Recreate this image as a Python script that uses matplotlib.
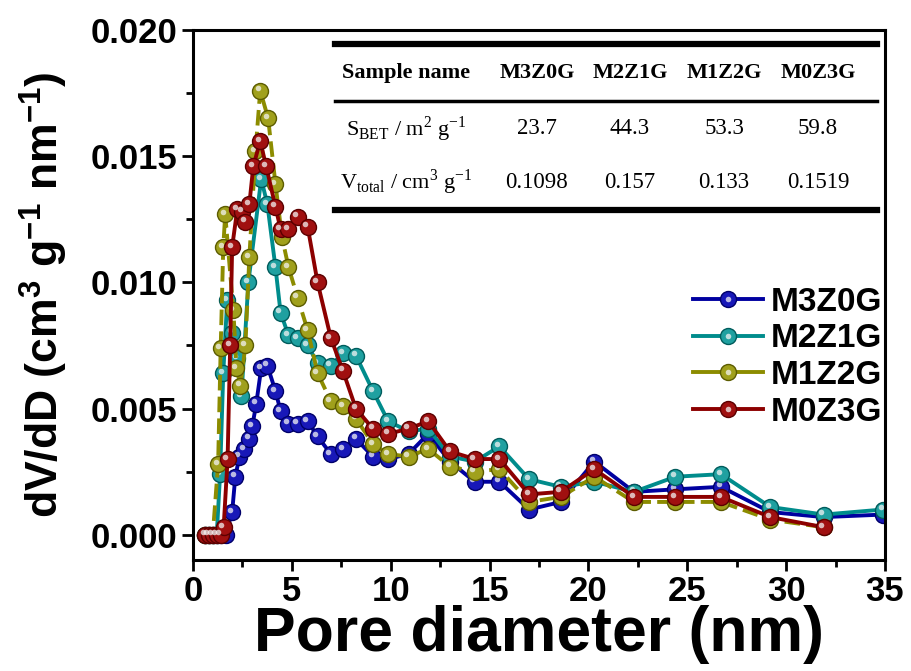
import numpy as np
import matplotlib
matplotlib.use("Agg")
import matplotlib.pyplot as plt
from matplotlib.lines import Line2D
from matplotlib.legend_handler import HandlerTuple
from matplotlib.transforms import offset_copy

plt.rcParams['font.family'] = ['Liberation Sans', 'DejaVu Sans']
plt.rcParams['font.weight'] = 'bold'

# BJH pore size distributions (pore diameter in nm, dV/dD in cm3 g-1 nm-1)
x_m3z0g = [0.6, 0.8, 1.0, 1.2, 1.4, 1.65, 1.98, 2.14, 2.35, 2.6, 2.85, 3.0, 3.2, 3.45, 3.76,
           4.17, 4.43, 4.83, 5.29, 5.8, 6.3, 6.97, 7.58, 8.24, 9.1, 9.87, 10.9, 11.9,
           13.0, 14.25, 15.5, 17.0, 18.6, 20.3, 22.3, 24.4, 26.7, 29.2, 31.9, 34.9]
y_m3z0g = [0, 0, 0, 0, 0, 0, 0.0009, 0.0023, 0.0031, 0.0034, 0.0038, 0.0043, 0.0052, 0.0066, 0.0067,
           0.0057, 0.0049, 0.0044, 0.0044, 0.0045, 0.0039, 0.0032, 0.0034, 0.0038, 0.0031, 0.0030, 0.0032, 0.0040,
           0.0029, 0.0021, 0.0021, 0.0010, 0.0013, 0.0029, 0.0017, 0.0018, 0.0019, 0.0009, 0.0007, 0.0008]

x_m2z1g = [0.6, 0.8, 1.0, 1.2, 1.37, 1.53, 1.73, 1.98, 2.24, 2.45, 2.8, 3.45, 3.76,
           4.17, 4.43, 4.83, 5.29, 5.8, 6.3, 6.97, 7.58, 8.24, 9.1, 9.87, 10.9, 11.9,
           13.0, 14.25, 15.5, 17.0, 18.6, 20.3, 22.3, 24.4, 26.7, 29.2, 31.9, 34.9]
y_m2z1g = [0, 0, 0, 0, 0.0024, 0.0064, 0.0093, 0.0080, 0.0070, 0.0055, 0.0100, 0.0141, 0.0131,
           0.0106, 0.0088, 0.0079, 0.0078, 0.0075, 0.0068, 0.0067, 0.0072, 0.0071, 0.0057, 0.0045, 0.0041, 0.0042,
           0.0031, 0.0029, 0.0035, 0.0022, 0.0019, 0.0021, 0.0017, 0.0023, 0.0024, 0.0011, 0.0008, 0.0010]

x_m1z2g = [0.6, 0.8, 1.0, 1.27, 1.4, 1.53, 1.63, 2.04, 2.2, 2.4, 2.65, 2.85, 3.16, 3.4, 3.8,
           4.17, 4.5, 4.83, 5.29, 5.8, 6.3, 6.97, 7.58, 8.24, 9.1, 9.87, 10.9, 11.9,
           13.0, 14.25, 15.5, 17.0, 18.6, 20.3, 22.3, 24.4, 26.7, 29.2, 31.9]
y_m1z2g = [0, 0, 0, 0.0028, 0.0074, 0.0114, 0.0127, 0.0089, 0.0066, 0.0059, 0.0075, 0.0110, 0.0152, 0.0176, 0.0165,
           0.0139, 0.0118, 0.0106, 0.0094, 0.0081, 0.0064, 0.0053, 0.0051, 0.0046, 0.0036, 0.0032, 0.0031, 0.0034,
           0.0027, 0.0025, 0.0026, 0.0013, 0.0015, 0.0023, 0.0013, 0.0013, 0.0013, 0.0006, 0.0003]

x_m0z3g = [0.6, 0.8, 1.0, 1.2, 1.4, 1.55, 1.75, 1.88, 1.98, 2.24, 2.5, 2.65, 2.85, 3.05, 3.4, 3.7,
           4.17, 4.43, 4.83, 5.29, 5.8, 6.3, 6.97, 7.58, 8.24, 9.1, 9.87, 10.9, 11.9,
           13.0, 14.25, 15.5, 17.0, 18.6, 20.3, 22.3, 24.4, 26.7, 29.2, 31.9]
y_m0z3g = [0, 0, 0, 0, 0, 0.0003, 0.0030, 0.0075, 0.0114, 0.0129, 0.0128, 0.0124, 0.0131, 0.0146, 0.0156, 0.0146,
           0.0130, 0.0121, 0.0121, 0.0126, 0.0122, 0.0100, 0.0078, 0.0065, 0.0050, 0.0042, 0.0040, 0.0042, 0.0045,
           0.0033, 0.0030, 0.0030, 0.0016, 0.0017, 0.0026, 0.0015, 0.0015, 0.0015, 0.0007, 0.0003]

names = ['M3Z0G', 'M2Z1G', 'M1Z2G', 'M0Z3G']
s_bet = ['23.7', '44.3', '53.3', '59.8']
v_total = ['0.1098', '0.157', '0.133', '0.1519']

series = [(x_m3z0g, y_m3z0g), (x_m2z1g, y_m2z1g), (x_m1z2g, y_m1z2g), (x_m0z3g, y_m0z3g)]
line_colors = ['#0000a0', '#008c8c', '#8c8c00', '#8c0000']
face_colors = ['#1818b8', '#1fa0a0', '#a0a01c', '#a01010']
edge_colors = ['#00006a', '#005c5c', '#5c5c00', '#5c0000']
styles = ['-', '-', (0, (4, 1.6)), '-']

fig = plt.figure(figsize=(9.11, 6.71), dpi=100)
ax = fig.add_axes([193 / 911, 1 - 560 / 671, (885 - 193) / 911, (560 - 30) / 671])

shine = offset_copy(ax.transData, fig=fig, x=-1.7, y=1.7, units='points')
handles = []
for (xs, ys), lc, fc, ec, ls, nm in zip(series, line_colors, face_colors, edge_colors, styles, names):
    ax.plot(xs, ys, color=lc, lw=2.8, ls=ls, marker='o', ms=11.5, mfc=fc, mec=ec, mew=1.0)
    ax.plot(xs, ys, ls='none', marker='o', ms=4, mfc='#f2f2f2', mec='none', alpha=0.75,
            transform=shine)
    h1 = Line2D([], [], color=lc, lw=2.8, marker='o', ms=11.5, mfc=fc, mec=ec, mew=1.0)
    h2 = Line2D([], [], ls='none', marker='o', ms=4, mfc='#f2f2f2', mec='none', alpha=0.75)
    handles.append((h1, h2))

ax.set_xlim(0, 35)
ax.set_ylim(-0.001, 0.020)
ax.set_xticks(np.arange(0, 36, 5))
ax.set_xticks(np.arange(2.5, 35, 5), minor=True)
ax.set_yticks(np.arange(0, 0.0201, 0.005))
ax.set_yticks(np.arange(0.0025, 0.02, 0.005), minor=True)
ax.yaxis.set_major_formatter(matplotlib.ticker.FormatStrFormatter('%.3f'))
ax.tick_params(which='both', direction='out', width=2, labelsize=25)
ax.tick_params(which='major', length=8, pad=3)
ax.tick_params(which='minor', length=5)
for sp in ax.spines.values():
    sp.set_linewidth(2.2)

ax.set_xlabel('Pore diameter (nm)', fontsize=45, fontweight='bold', labelpad=-2)
ax.set_ylabel(r'dV/dD (cm$^{\mathdefault{3}}$ g$^{\mathdefault{-1}}$ nm$^{\mathdefault{-1}}$)',
              fontsize=32, fontweight='bold', labelpad=15)

leg = ax.legend(handles, names, handler_map={tuple: HandlerTuple(ndivide=1)},
                loc='upper left', bbox_to_anchor=(676 / 911, 1 - 270 / 671),
                bbox_transform=fig.transFigure, frameon=False, fontsize=24,
                handlelength=2.1, handletextpad=0.25, labelspacing=0.17, borderpad=0)
for t in leg.get_texts():
    t.set_fontweight('bold')

# summary table of surface area and pore volume
def fx(px):
    return px / 911

def fy(py):
    return 1 - py / 671

serif = ['Liberation Serif', 'DejaVu Serif']
for py, lw in [(44, 4.5), (101, 2.5), (210, 4.5)]:
    fig.add_artist(Line2D([fx(335), fx(877)], [fy(py), fy(py)], color='black', lw=lw,
                          transform=fig.transFigure))

col_x = [537, 630, 724, 818]
fig.text(fx(406), fy(73), 'Sample name', family=serif, fontsize=16, fontweight='bold',
         ha='center', va='center')
for cx, nm, sb, vt in zip(col_x, names, s_bet, v_total):
    fig.text(fx(cx), fy(73), nm, family=serif, fontsize=16, fontweight='bold', ha='center', va='center')
    fig.text(fx(cx), fy(129), sb, family=serif, fontsize=16.5, fontweight='normal', ha='center', va='center')
    fig.text(fx(cx), fy(182), vt, family=serif, fontsize=16.5, fontweight='normal', ha='center', va='center')

fig.text(fx(406), fy(129), r'S$_{\mathdefault{BET}}$ / m$^{\mathdefault{2}}$ g$^{\mathdefault{-1}}$',
         family=serif, fontsize=16, fontweight='normal', ha='center', va='center')
fig.text(fx(406), fy(182), r'V$_{\mathdefault{total}}$ / cm$^{\mathdefault{3}}$ g$^{\mathdefault{-1}}$',
         family=serif, fontsize=16, fontweight='normal', ha='center', va='center')

fig.savefig('out.png', dpi=100)
